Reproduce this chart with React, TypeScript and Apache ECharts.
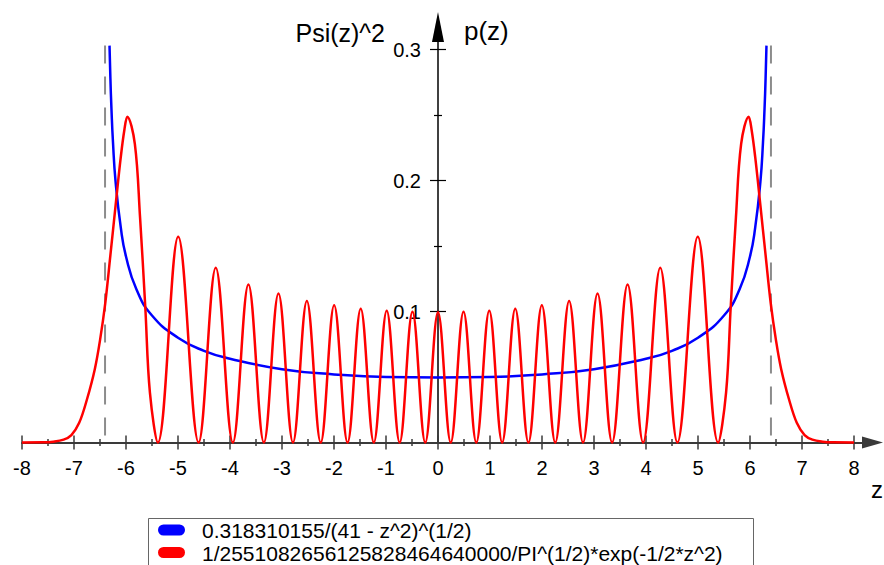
import React, { useEffect, useRef } from "react";
import * as echarts from "echarts";

const FONT = '"Liberation Sans", Arial, Helvetica, sans-serif';

// Axis ticks / labels
const xMajorTicks = [-8, -7, -6, -5, -4, -3, -2, -1, 0, 1, 2, 3, 4, 5, 6, 7, 8];
const xMinorTicks = [-7.5, -6.5, -5.5, -4.5, -3.5, -2.5, -1.5, -0.5, 0.5, 1.5, 2.5, 3.5, 4.5, 5.5, 6.5, 7.5];
const yMajorTicks = [0.1, 0.2, 0.3];
const yMinorTicks = [0.05, 0.15, 0.25];
const X_MIN = -8;
const X_MAX = 8.356;
const Y_MIN = 0;
const Y_MAX = 0.3172;

// Classical density p(z) (blue)
const classicalDensity: [number, number][] = [
  [-6.317, 0.303], [-6.3, 0.278], [-6.28, 0.255], [-6.25, 0.229], [-6.2, 0.199],
  [-6.1, 0.164], [-6.0, 0.142], [-5.8, 0.117], [-5.5, 0.097], [-5.0, 0.080],
  [-4.5, 0.070], [-4.0, 0.064], [-3.0, 0.056], [-2.0, 0.052], [-1.0, 0.050],
  [0, 0.0497],
  [1.0, 0.050], [2.0, 0.052], [3.0, 0.056], [4.0, 0.064], [4.5, 0.070],
  [5.0, 0.080], [5.5, 0.097], [5.8, 0.117], [6.0, 0.142], [6.1, 0.164],
  [6.2, 0.199], [6.25, 0.229], [6.28, 0.255], [6.3, 0.278], [6.317, 0.303],
];

// Quantum density Psi(z)^2 (red): peaks, zeros and flank points
const quantumDensity: [number, number][] = [
  [-8, 0], [-7.6, 0.0001], [-7.4, 0.0006], [-7.2, 0.0022], [-7.05, 0.0057],
  [-6.9, 0.015], [-6.75, 0.033], [-6.6, 0.056], [-6.5, 0.078], [-6.4, 0.106],
  [-6.3, 0.143], [-6.2, 0.181], [-6.1, 0.218], [-6.03, 0.239], [-5.975, 0.2487],
  [-5.83, 0.228], [-5.73, 0.172], [-5.63, 0.104], [-5.54, 0.038],
  [-5.388, 0], [-4.996, 0.157], [-4.604, 0], [-4.274, 0.1334],
  [-3.945, 0], [-3.646, 0.1207], [-3.348, 0], [-3.068, 0.1137], [-2.789, 0],
  [-2.522, 0.1081], [-2.255, 0], [-1.997, 0.1047], [-1.739, 0], [-1.486, 0.1021],
  [-1.234, 0], [-0.986, 0.1006], [-0.737, 0], [-0.491, 0.0999], [-0.245, 0],
  [0, 0.0994],
  [0.245, 0], [0.491, 0.0999], [0.737, 0], [0.986, 0.1006], [1.234, 0],
  [1.486, 0.1021], [1.739, 0], [1.997, 0.1047], [2.255, 0], [2.522, 0.1081],
  [2.789, 0], [3.068, 0.1137], [3.348, 0], [3.646, 0.1207], [3.945, 0],
  [4.274, 0.1334], [4.604, 0], [4.996, 0.157], [5.388, 0],
  [5.54, 0.038], [5.63, 0.104], [5.73, 0.172], [5.83, 0.228],
  [5.975, 0.2487], [6.03, 0.239], [6.1, 0.218], [6.2, 0.181], [6.3, 0.143],
  [6.4, 0.106], [6.5, 0.078], [6.6, 0.056], [6.75, 0.033], [6.9, 0.015],
  [7.05, 0.0057], [7.2, 0.0022], [7.4, 0.0006], [7.6, 0.0001], [8, 0],
];

// Classical turning points (dashed lines)
const turningPoints = [-6.403, 6.403];
const turningTop = 0.303;

const blueLabel = "0.318310155/(41 - z^2)^(1/2)";
const redLabel = "1/2551082656125828464640000/PI^(1/2)*exp(-1/2*z^2)";

const GRID_LEFT = 22;
const GRID_RIGHT = 11.5;
const CHART_W = 884;
// offset that moves the y axis from the grid's left edge onto z = 0
const Y_AXIS_OFFSET =
  -((0 - X_MIN) / (X_MAX - X_MIN)) * (CHART_W - GRID_LEFT - GRID_RIGHT);

function xAxisDef(values: number[], inside: boolean, len: number, main: boolean) {
  return {
    type: "value",
    min: X_MIN,
    max: X_MAX,
    position: "bottom",
    axisLine: main
      ? {
          show: true,
          onZero: false,
          symbol: ["none", "triangle"],
          symbolSize: [12, 21],
          lineStyle: { color: "#3a3a3a", width: 2 },
        }
      : { show: false, onZero: false },
    axisTick: {
      show: true,
      inside,
      length: len,
      customValues: values,
      lineStyle: { color: "#3a3a3a", width: 1.5 },
    },
    axisLabel: main
      ? {
          show: true,
          customValues: xMajorTicks,
          fontSize: 20,
          fontFamily: FONT,
          color: "#000",
          margin: 15,
          formatter: (v: number) => String(Math.round(v)),
        }
      : { show: false },
    splitLine: { show: false },
  };
}

function yAxisDef(values: number[], inside: boolean, len: number, main: boolean) {
  return {
    type: "value",
    min: Y_MIN,
    max: Y_MAX,
    position: "left",
    offset: Y_AXIS_OFFSET,
    axisLine: main
      ? {
          show: true,
          onZero: false,
          symbol: ["none", "triangle"],
          symbolSize: [12, 30],
          lineStyle: { color: "#000", width: 1.5 },
        }
      : { show: false, onZero: false },
    axisTick: {
      show: true,
      inside,
      length: len,
      customValues: values,
      lineStyle: { color: "#000", width: 1.2 },
    },
    axisLabel: main
      ? {
          show: true,
          customValues: yMajorTicks,
          fontSize: 20,
          fontFamily: FONT,
          color: "#000",
          margin: 17,
          padding: [6, 0, 0, 0],
          formatter: (v: number) => v.toFixed(1),
        }
      : { show: false },
    splitLine: { show: false },
  };
}

export default function App() {
  const ref = useRef<HTMLDivElement>(null);

  useEffect(() => {
    document.body.style.margin = "0";
    if (!ref.current) return;
    const chart = echarts.init(ref.current, undefined, { renderer: "svg" });

    const option: any = {
      animation: false,
      backgroundColor: "#ffffff",
      textStyle: { fontFamily: FONT },
      grid: {
        left: GRID_LEFT,
        right: GRID_RIGHT,
        top: 27,
        bottom: 122.5,
        containLabel: false,
        outerBoundsMode: "none",
      },
      xAxis: [
        xAxisDef(xMajorTicks, false, 7, true),
        xAxisDef(xMajorTicks, true, 7, false),
        xAxisDef(xMinorTicks, false, 3.5, false),
        xAxisDef(xMinorTicks, true, 3.5, false),
      ],
      yAxis: [
        yAxisDef(yMajorTicks, false, 8, true),
        yAxisDef(yMajorTicks, true, 8, false),
        yAxisDef(yMinorTicks, false, 4, false),
        yAxisDef(yMinorTicks, true, 4, false),
      ],
      series: [
        ...turningPoints.map((tp) => ({
          type: "line",
          name: "turning",
          data: [
            [tp, turningTop],
            [tp, 0],
          ],
          showSymbol: false,
          silent: true,
          clip: false,
          lineStyle: { color: "#8c8c8c", width: 2, type: [18, 13] },
          z: 2,
        })),
        {
          type: "line",
          name: blueLabel,
          data: classicalDensity,
          smooth: 0.5,
          showSymbol: false,
          silent: true,
          clip: false,
          lineStyle: { color: "#0000ff", width: 2.5 },
          z: 3,
        },
        {
          type: "line",
          name: redLabel,
          data: quantumDensity,
          smooth: 0.37,
          showSymbol: false,
          silent: true,
          clip: false,
          lineStyle: { color: "#ff0000", width: 2.5 },
          z: 4,
        },
      ],
      graphic: [
        {
          type: "text",
          x: 385,
          y: 33,
          style: {
            text: "Psi(z)^2",
            fontSize: 25,
            fontFamily: FONT,
            fill: "#000",
            align: "right",
            verticalAlign: "middle",
          },
        },
        {
          type: "text",
          x: 464,
          y: 31,
          style: {
            text: "p(z)",
            fontSize: 26,
            fontFamily: FONT,
            fill: "#000",
            align: "left",
            verticalAlign: "middle",
          },
        },
        {
          type: "text",
          x: 871,
          y: 489,
          style: {
            text: "z",
            fontSize: 24,
            fontFamily: FONT,
            fill: "#000",
            align: "left",
            verticalAlign: "middle",
          },
        },
        {
          type: "rect",
          shape: { x: 148.5, y: 518.5, width: 605, height: 60 },
          style: { fill: "#ffffff", stroke: "#666666", lineWidth: 1 },
          z: 10,
        },
        {
          type: "rect",
          shape: { x: 158, y: 524.5, width: 27, height: 11, r: 5.5 },
          style: { fill: "#0000ff" },
          z: 11,
        },
        {
          type: "text",
          x: 202,
          y: 530,
          style: {
            text: blueLabel,
            fontSize: 21,
            fontFamily: FONT,
            fill: "#000",
            verticalAlign: "middle",
          },
          z: 11,
        },
        {
          type: "rect",
          shape: { x: 158, y: 547, width: 27, height: 11, r: 5.5 },
          style: { fill: "#ff0000" },
          z: 11,
        },
        {
          type: "text",
          x: 202,
          y: 553,
          style: {
            text: redLabel,
            fontSize: 21,
            fontFamily: FONT,
            fill: "#000",
            verticalAlign: "middle",
          },
          z: 11,
        },
      ],
    };

    chart.setOption(option);
    return () => {
      chart.dispose();
    };
  }, []);

  return <div ref={ref} style={{ width: 884, height: 565 }} />;
}
